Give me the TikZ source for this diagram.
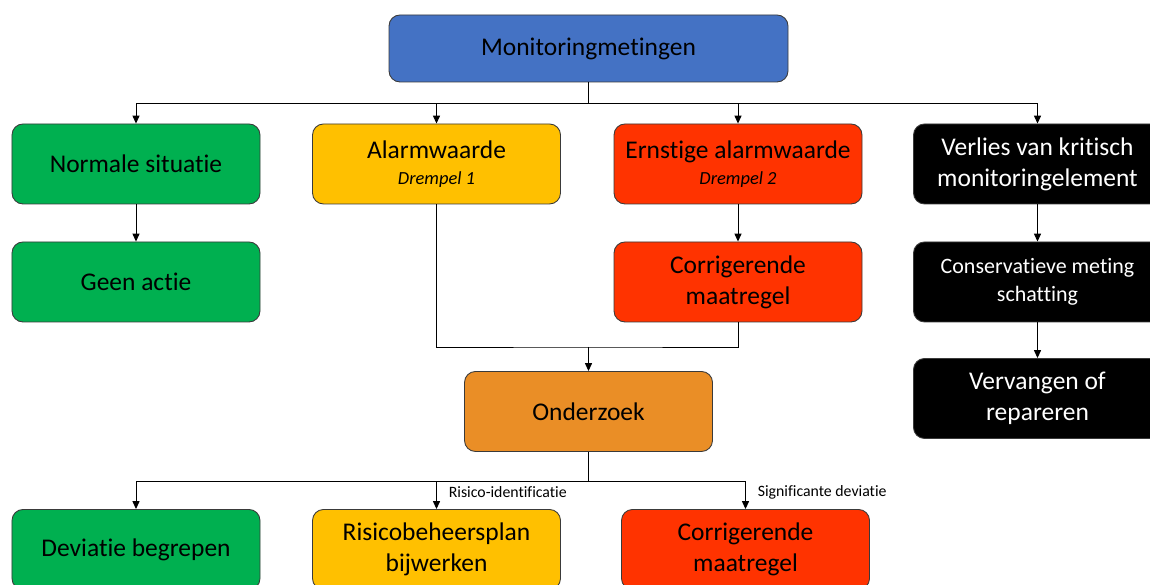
\documentclass[tikz,border=0pt]{standalone}
\usepackage{fontspec}
\setmainfont[Ligatures={NoCommon}]{Carlito}
\usepackage{xcolor}
\usepackage{tikz}
\usetikzlibrary{arrows.meta}
\definecolor{boxblue}{HTML}{4472C4}
\definecolor{boxgreen}{HTML}{00B050}
\definecolor{boxyellow}{HTML}{FFC000}
\definecolor{boxred}{HTML}{FF3300}
\definecolor{boxorange}{HTML}{EA8E26}
\definecolor{boxline}{HTML}{3A3A3A}
\newcommand{\drempel}[1]{{\fontsize{10.5}{12}\selectfont\itshape #1}}

\begin{document}
\begin{tikzpicture}[>={Triangle[length=4.5pt,width=4pt]},
  box/.style={draw=boxline,line width=0.5pt,rounded corners=0.22cm,minimum width=4.96cm,minimum height=1.6cm,
    inner sep=0pt,align=center,font=\fontsize{14.5}{17.5}\selectfont},
  link/.style={line width=0.55pt},
  tag/.style={font=\fontsize{9}{11}\selectfont,anchor=west,xshift=0.12cm}]
  \clip (0,0) rectangle (23,11.7);
  \node[box,fill=boxblue,minimum width=7.98cm,minimum height=1.34cm] (mon) at (11.77,10.73) {Monitoringmetingen};
  % eerste rij
  \node[box,fill=boxgreen] (norm) at (2.72,8.42) {Normale situatie};
  \node[box,fill=boxyellow] (alarm) at (8.73,8.42) {Alarmwaarde\\[-2.5pt]\drempel{Drempel 1}};
  \node[box,fill=boxred] (ernst) at (14.76,8.42) {Ernstige alarmwaarde\\[-2.5pt]\drempel{Drempel 2}};
  \node[box,fill=black,text=white] (verl) at (20.75,8.42) {Verlies van kritisch\\monitoringelement};
  % tweede rij
  \node[box,fill=boxgreen] (geen) at (2.72,6.06) {Geen actie};
  \node[box,fill=boxred] (corr) at (14.76,6.06) {Corrigerende\\maatregel};
  \node[box,fill=black,text=white,font=\fontsize{12.5}{16}\selectfont] (cons) at (20.75,6.06) {Conservatieve meting\\schatting};
  \node[box,fill=black,text=white] (verv) at (20.75,3.73) {Vervangen of\\repareren};
  \node[box,fill=boxorange] (onder) at (11.77,3.47) {Onderzoek};
  % onderste rij
  \node[box,fill=boxgreen] (devi) at (2.72,0.71) {Deviatie begrepen};
  \node[box,fill=boxyellow] (risk) at (8.73,0.71) {Risicobeheersplan\\bijwerken};
  \node[box,fill=boxred] (corrb) at (14.91,0.71) {Corrigerende\\maatregel};
  % hulppunten
  \coordinate (split) at (11.77,9.64);
  \coordinate (merge) at (11.77,4.76);
  \coordinate (splitb) at (11.77,2.08);
  % verbindingen
  \draw[link] (mon.south) -- (split);
  \foreach \n in {norm,alarm,ernst,verl} { \draw[link,->] (split) -| (\n.north); }
  \draw[link,->] (norm) -- (geen);
  \draw[link,->] (ernst) -- (corr);
  \draw[link,->] (verl) -- (cons);
  \draw[link,->] (cons) -- (verv);
  \draw[link] (alarm.south) |- (merge) -| (corr.south);
  \draw[link,->] (merge) -- (onder.north);
  \draw[link] (onder.south) -- (splitb);
  \draw[link,->] (splitb) -| (devi.north);
  \draw[link,->] (splitb) -| (risk.north) node[tag,pos=0.7] {Risico-identificatie};
  \draw[link,->] (splitb) -| (corrb.north) node[tag,pos=0.7] {Significante deviatie};
\end{tikzpicture}
\end{document}
